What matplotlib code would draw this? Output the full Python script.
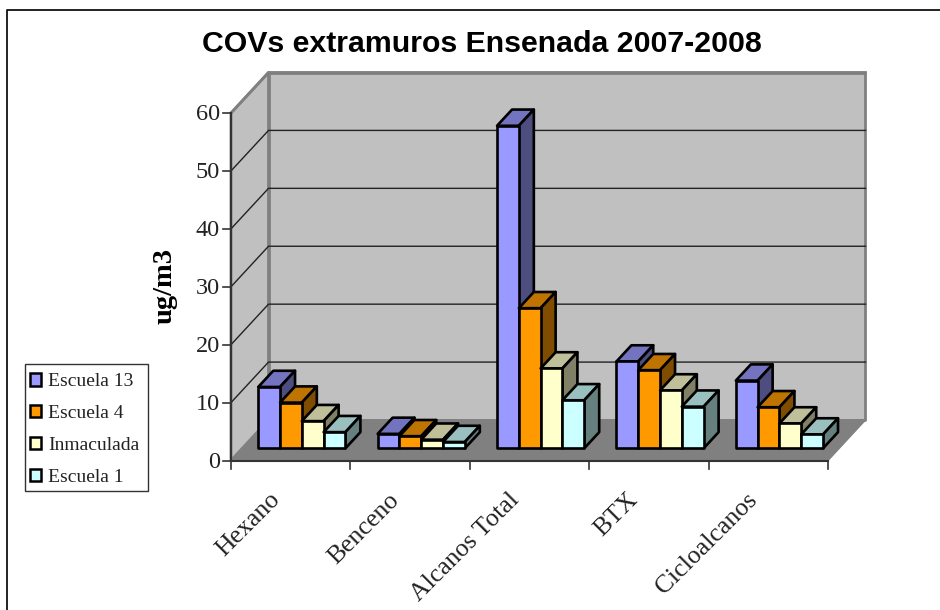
import matplotlib
matplotlib.use("Agg")
import matplotlib.pyplot as plt
from matplotlib.patches import Polygon, Patch, Rectangle
from matplotlib.lines import Line2D
from matplotlib.colors import to_rgb

categories = ["Hexano", "Benceno", "Alcanos Total", "BTX", "Cicloalcanos"]
series_names = ["Escuela 13", "Escuela 4", "Inmaculada", "Escuela 1"]
escuela_13 = [10.6, 2.5, 55.7, 15.0, 11.7]
escuela_4 = [7.9, 2.1, 24.2, 13.5, 7.1]
inmaculada = [4.7, 1.5, 13.8, 10.0, 4.3]
escuela_1 = [2.8, 1.1, 8.3, 7.2, 2.4]
series_values = [escuela_13, escuela_4, inmaculada, escuela_1]
colors = ["#9999FF", "#FF9900", "#FFFFCC", "#CCFFFF"]
yticks = [0, 10, 20, 30, 40, 50, 60]

W, H = 940, 610
X0, X1, Y0, Y1 = 231, 828, 460.5, 113   # front plane in pixels
fig = plt.figure(figsize=(W / 100, H / 100), dpi=100)
fig.patch.set_facecolor("white")
# page frame: only the left and top edges are visible
fig.add_artist(Line2D([6.5 / W, 6.5 / W, 1.0], [0, 1 - 10 / H, 1 - 10 / H], transform=fig.transFigure,
                      color="#111111", lw=1.3))
ax = fig.add_axes([X0 / W, 1 - Y0 / H, (X1 - X0) / W, (Y0 - Y1) / H])
ax.set_xlim(0, len(categories))
ax.set_ylim(0, 60)
ax.axis("off")

# oblique projection: depth 0..1 shifts the point right and up (in data units)
DX = 37.5 / ((X1 - X0) / 5)
DY = 40.5 / ((Y0 - Y1) / 60)
n = len(categories)


def P(x, y, d):
    return (x + d * DX, y + d * DY)


def face(pts, fc, ec="black", lw=1.9, z=3):
    ax.add_patch(Polygon(pts, closed=True, fc=fc, ec=ec, lw=lw, zorder=z, clip_on=False, joinstyle="round"))


GRAY = "#808080"
WALL = "#C0C0C0"
# walls and floor
face([P(0, 0, 1), P(n, 0, 1), P(n, 60, 1), P(0, 60, 1)], WALL, GRAY, 2.0, 1)
face([P(0, 0, 0), P(0, 0, 1), P(0, 60, 1), P(0, 60, 0)], WALL, GRAY, 2.0, 1)
face([P(0, 0, 0), P(n, 0, 0), P(n, 0, 1), P(0, 0, 1)], GRAY, GRAY, 1.0, 1)

# gridlines on the walls
for v in yticks[1:]:
    xs, ys = zip(P(0, v, 0), P(0, v, 1), P(n, v, 1))
    ax.plot(xs, ys, color="#222222", lw=1.0, zorder=2, clip_on=False)
ax.plot(*zip(P(0, 60, 0), P(0, 60, 1), P(n, 60, 1)), color=GRAY, lw=2.0, zorder=2, clip_on=False)
# front axes
ax.plot([0, 0], [0, 60], color="#333333", lw=1.5, zorder=2, clip_on=False)
ax.plot([0, n], [0, 0], color="#333333", lw=1.5, zorder=2, clip_on=False)

tick_dx = 8 / ((X1 - X0) / 5)
tick_dy = 8 / ((Y0 - Y1) / 60)
for v in yticks:
    ax.plot([-tick_dx, 0], [v, v], color="#333333", lw=1.2, clip_on=False)
    ax.annotate(str(v), xy=(0, v), xytext=(-11, -2), textcoords="offset pixels", ha="right", va="center",
                fontsize=17.5, family="Liberation Serif", color="#222222", annotation_clip=False)
for i in range(n + 1):
    ax.plot([i, i], [0, -tick_dy], color="#333333", lw=1.2, clip_on=False)

# bars
BAR_W = 0.1825
OFF = 0.134
D0, D1 = 0.3, 0.7
for c in range(n):
    for s, vals in enumerate(series_values):
        v = vals[c]
        xa = c + OFF + s * BAR_W
        xb = xa + BAR_W
        base = to_rgb(colors[s])
        top = tuple(0.75 * k for k in base)
        side = tuple(0.5 * k for k in base)
        z = 3 + 0.01 * (c * 10 + s)
        face([P(xa, v, D0), P(xb, v, D0), P(xb, v, D1), P(xa, v, D1)], top, z=z)
        face([P(xb, 0, D0), P(xb, 0, D1), P(xb, v, D1), P(xb, v, D0)], side, z=z)
        face([P(xa, 0, D0), P(xb, 0, D0), P(xb, v, D0), P(xa, v, D0)], base, z=z)

# category labels
for i, name in enumerate(categories):
    ax.annotate(name, xy=(i + 0.5, 0), xytext=(-14, -36), textcoords="offset pixels",
                rotation=45, rotation_mode="anchor", ha="right", va="center",
                fontsize=18.5, family="Liberation Serif", color="#222222", annotation_clip=False)

fig.text(482 / W, 1 - 44 / H, "COVs extramuros Ensenada 2007-2008", ha="center", va="center",
         fontsize=21.8, fontweight="bold", family="Liberation Sans", color="black")
fig.text(165 / W, 1 - 286 / H, "ug/m3", rotation=90, ha="center", va="center", fontsize=20.5,
         fontweight="bold", family="Liberation Serif", color="black")

# legend frame and entries
fig.add_artist(Rectangle((25 / W, 1 - 491 / H), 123 / W, 127.5 / H, transform=fig.transFigure,
                         fc="white", ec="#333333", lw=1.0))
handles = [Patch(fc=col, ec="black", lw=1.8) for col in colors]
leg = fig.legend(handles, series_names, loc="upper left",
                 bbox_to_anchor=(23 / W, 1 - 366.5 / H), bbox_transform=fig.transFigure,
                 prop={"family": "Liberation Serif", "size": 14},
                 handlelength=0.55, handleheight=0.6, handletextpad=0.4,
                 labelspacing=0.76, borderpad=0.35, borderaxespad=0, frameon=False)
for t in leg.get_texts():
    t.set_color("#222222")

fig.savefig("out.png", dpi=100)
